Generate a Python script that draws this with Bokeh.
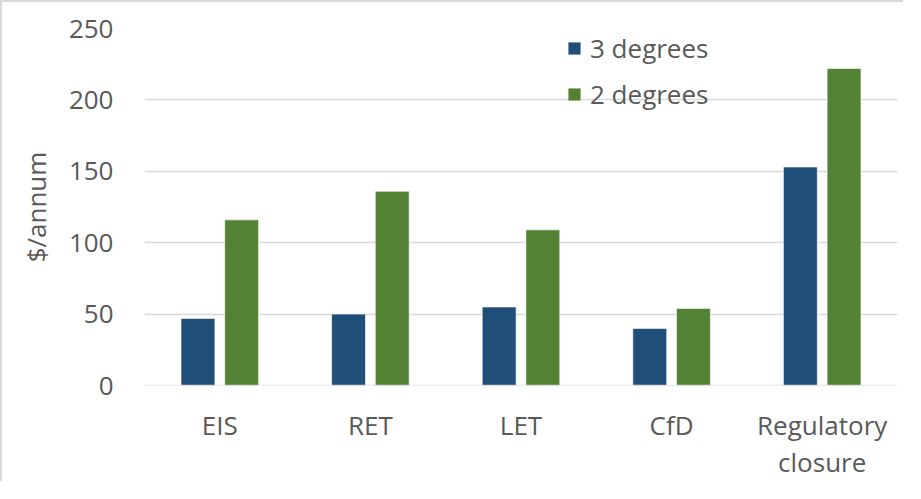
from bokeh.plotting import figure
from bokeh.models import ColumnDataSource, FactorRange, Legend, LegendItem, Span
from bokeh.transform import dodge
from bokeh.embed import file_html
from bokeh.resources import INLINE

categories = ["EIS", "RET", "LET", "CfD", "Regulatory\nclosure"]
three_degrees = [47, 50, 55, 40, 153]
two_degrees = [116, 136, 109, 54, 222]
y_ticks = [0, 50, 100, 150, 200, 250]

FONT = "Open Sans"
TXT = "#595959"
FS = "26px"

src = ColumnDataSource(dict(cat=categories, d3=three_degrees, d2=two_degrees))

p = figure(x_range=FactorRange(*categories, range_padding=0), y_range=(0, 250),
           width=903, height=481, output_backend="svg", toolbar_location=None,
           min_border_left=142, min_border_right=8, min_border_top=26, min_border_bottom=94)
p.styles = {"border-left": "2px solid #d9d9d9", "border-top": "2px solid #d9d9d9"}
p.outline_line_color = None
p.background_fill_color = "white"
p.border_fill_color = "white"

r3 = p.vbar(x=dodge("cat", -0.145, range=p.x_range), top="d3", width=0.225, source=src,
            fill_color="#1F4E79", line_color="#ffffff", line_alpha=0.6, line_width=1)
r2 = p.vbar(x=dodge("cat", 0.145, range=p.x_range), top="d2", width=0.225, source=src,
            fill_color="#548235", line_color="#ffffff", line_alpha=0.6, line_width=1)

p.xgrid.grid_line_color = None
p.ygrid.grid_line_color = "#d9d9d9"
p.ygrid.grid_line_width = 1.5
p.yaxis.ticker = y_ticks
p.add_layout(Span(location=0, dimension="width", line_color="#d9d9d9", line_width=1.5))

for ax in (p.xaxis[0], p.yaxis[0]):
    ax.axis_line_color = None
    ax.major_tick_line_color = None
    ax.minor_tick_line_color = None
    ax.major_tick_out = 0
    ax.major_tick_in = 0
    ax.minor_tick_out = 0
    ax.minor_tick_in = 0
    ax.major_label_text_font = FONT
    ax.major_label_text_font_size = FS
    ax.major_label_text_color = TXT
    ax.axis_label_text_font = FONT
    ax.axis_label_text_font_size = FS
    ax.axis_label_text_color = TXT
    ax.axis_label_text_font_style = "normal"

p.yaxis.axis_label = "$/annum"
p.yaxis.major_label_standoff = 31
p.yaxis.axis_label_standoff = 12
p.xaxis.major_label_standoff = 21
p.xaxis.major_label_text_line_height = 1.05

legend = Legend(items=[LegendItem(label="3 degrees", renderers=[r3]),
                       LegendItem(label="2 degrees", renderers=[r2])],
                location=(422, 273), orientation="vertical",
                background_fill_alpha=0, border_line_color=None,
                glyph_width=16, glyph_height=16, label_standoff=8, spacing=10, padding=0, margin=0,
                label_text_font=FONT, label_text_font_size=FS, label_text_color=TXT)
p.add_layout(legend)

open("out.html", "w").write(file_html(p, INLINE))
